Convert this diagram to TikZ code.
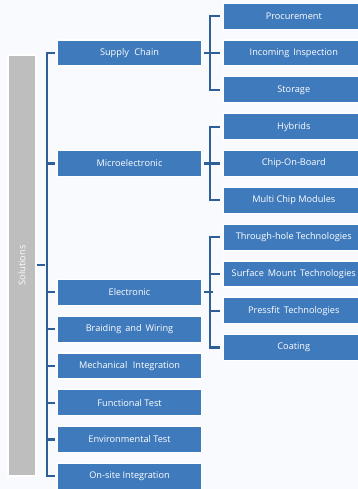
\documentclass[tikz,border=0pt]{standalone}
\usepackage{fontspec}
\setmainfont{Open Sans}
\definecolor{bgcol}{HTML}{F8FAFE}
\definecolor{boxcol}{HTML}{3F7ABC}
\definecolor{linecol}{HTML}{2F5F97}
\definecolor{barcol}{HTML}{BEBEBE}
\tikzset{
  lvlone/.style={fill=boxcol, draw=white, line width=1.2pt, text=white,
    minimum width=143.5pt, minimum height=26pt, inner sep=0pt},
  lvltwo/.style={lvlone, minimum width=141pt},
  brace/.style={draw=linecol, line width=2.3pt}
}
\begin{document}
\begin{tikzpicture}[x=1pt, y=-1pt, font=\fontsize{9.2}{11}\selectfont, line join=miter, line cap=butt]
	\def\dy{36.8}  % row pitch
	\def\yo{16.3}
	\fill[bgcol] (0,0) rectangle (358,489);
	\useasboundingbox (0,0) rectangle (358,489);
	% left column
	\node[fill=barcol, draw=white, line width=1.5pt, text=white, rotate=90,
	  minimum width=421pt, minimum height=28pt, inner sep=0pt] (sol) at (22,265.3) {Solutions};
	% level one
	\node[lvlone] (sc) at (129.5,\yo+1*\dy) {Supply\,\, Chain};
	\node[lvlone] (me) at (129.5,\yo+4*\dy) {Microelectronic};
	\node[lvlone] (el) at (129.5,\yo+7.5*\dy) {Electronic};
	\node[lvlone] (bw) at (129.5,\yo+8.5*\dy) {Braiding\, and\, Wiring};
	\node[lvlone] (mi) at (129.5,\yo+9.5*\dy) {Mechanical\,\, Integration};
	\node[lvlone] (ft) at (129.5,\yo+10.5*\dy) {Functional Test};
	\node[lvlone] (et) at (129.5,\yo+11.5*\dy) {Environmental Test};
	\node[lvlone] (oi) at (129.5,\yo+12.5*\dy) {On-site Integration};
	% level two
	\node[lvltwo] (pr) at (293.8,\yo+0*\dy) {Procurement};
	\node[lvltwo] (ii) at (293.8,\yo+1*\dy) {Incoming\, Inspection};
	\node[lvltwo] (st) at (293.8,\yo+2*\dy) {Storage};
	\node[lvltwo] (hy) at (293.8,\yo+3*\dy) {Hybrids};
	\node[lvltwo] (cb) at (293.8,\yo+4*\dy) {Chip-On-Board};
	\node[lvltwo] (mc) at (293.8,\yo+5*\dy) {Multi Chip Modules};
	\node[lvltwo] (th) at (293.8,\yo+6*\dy) {Through-hole Technologies};
	\node[lvltwo] (sm) at (293.8,\yo+7*\dy) {Surface\, Mount\, Technologies};
	\node[lvltwo] (pf) at (293.8,\yo+8*\dy) {Pressfit\, Technologies};
	\node[lvltwo] (co) at (293.8,\yo+9*\dy) {Coating};
	% brackets
	\draw[brace] (sol.south) -- ++(8,0) coordinate (lb);
	\draw[brace] ([xshift=-10pt]sc.west) -- ++(0,\dy*11.5) -- ++(8,0);
	\foreach \n in {sc,me,el,bw,mi,ft,et}
		\draw[brace] ([xshift=-11pt]\n.west) -- ([xshift=-2pt]\n.west);
	\foreach \p/\a/\b in {sc/pr/st,me/hy/mc,el/th/co}{
		\draw[brace] ([xshift=2pt]\p.east) -- ([xshift=11pt]\p.east);
		\draw[brace] ([xshift=-3pt]\a.west) -- ++(-10,0) |- ([xshift=-3pt]\b.west);
	}
	\foreach \n in {ii,cb,sm,pf}
		\draw[brace] ([xshift=-13pt]\n.west) -- ([xshift=-3pt]\n.west);
\end{tikzpicture}
\end{document}
